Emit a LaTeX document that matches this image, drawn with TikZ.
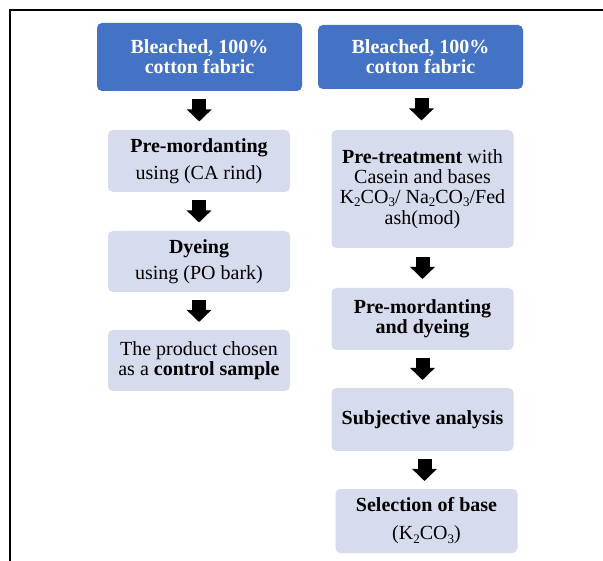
\documentclass[tikz,border=0pt]{standalone}
\usepackage{fontspec}
\setmainfont{Liberation Serif}
\usetikzlibrary{arrows.meta,calc}
\definecolor{hdrblue}{RGB}{68,114,196}
\definecolor{boxfill}{RGB}{214,220,237}
\newcommand{\chemsub}[1]{\raisebox{-0.16em}{\fontsize{13}{13}\selectfont #1}}
\begin{document}
\begin{tikzpicture}[x=1pt,y=-1pt,
  hdr/.style={fill=hdrblue, rounded corners=5pt, text=white,
    font=\bfseries\fontsize{20}{20}\selectfont, align=center,
    minimum width=205pt, inner sep=0pt},
  stepbox/.style={fill=boxfill, rounded corners=5pt,
    font=\fontsize{20}{20}\selectfont, align=center,
    minimum width=182pt, inner sep=0pt},
  boldbox/.style={stepbox, font=\bfseries\fontsize{20}{20}\selectfont},
  blockarrow/.style={line width=14pt, black, -{Triangle[width=24pt,length=12pt]}}]

\useasboundingbox (0,0) rectangle (603,561);
\fill[white] (0,0) rectangle (603,561);
\draw[line width=2pt] (10,561) -- (10,10) -- (603,10);

% left column
\node[hdr, minimum height=68pt] (l0) at (199.5,57) {Bleached, 100\%\\cotton fabric};
\node[stepbox, minimum height=62pt] (l1) at (199,161) {\textbf{Pre-mordanting}\\[7pt]using (CA rind)};
\node[stepbox, minimum height=61pt] (l2) at (199,261.5) {\textbf{Dyeing}\\[6pt]using (PO bark)};
\node[stepbox, minimum height=61pt] (l3) at (199,360.5) {The product chosen\\as a \textbf{control sample}};

% right column
\node[hdr, minimum height=64pt] (r0) at (420.5,57) {Bleached, 100\%\\cotton fabric};
\node[stepbox, minimum height=118pt] (r1) at (422.5,189) {\textbf{Pre-treatment} with\\Casein and bases\\K\chemsub{2}CO\chemsub{3}/ Na\chemsub{2}CO\chemsub{3}/Fed\\[1pt]ash(mod)};
\node[boldbox, minimum height=62pt] (r2) at (422.5,319) {Pre-mordanting\\and dyeing};
\node[boldbox, minimum height=63pt] (r3) at (422.5,419.5) {Subjective analysis};
\node[stepbox, minimum height=64pt] (r4) at (426.5,521) {\textbf{Selection of base}\\[8pt](K\chemsub{2}CO\chemsub{3})};

\foreach \a/\b in {l0/l1,l1/l2,l2/l3,r0/r1,r1/r2,r2/r3,r3/r4} {
  \draw[blockarrow] ($(\a.south)!0.5!(\b.north)+(0,-11)$) -- ($(\a.south)!0.5!(\b.north)+(0,11)$);
}
\end{tikzpicture}
\end{document}
